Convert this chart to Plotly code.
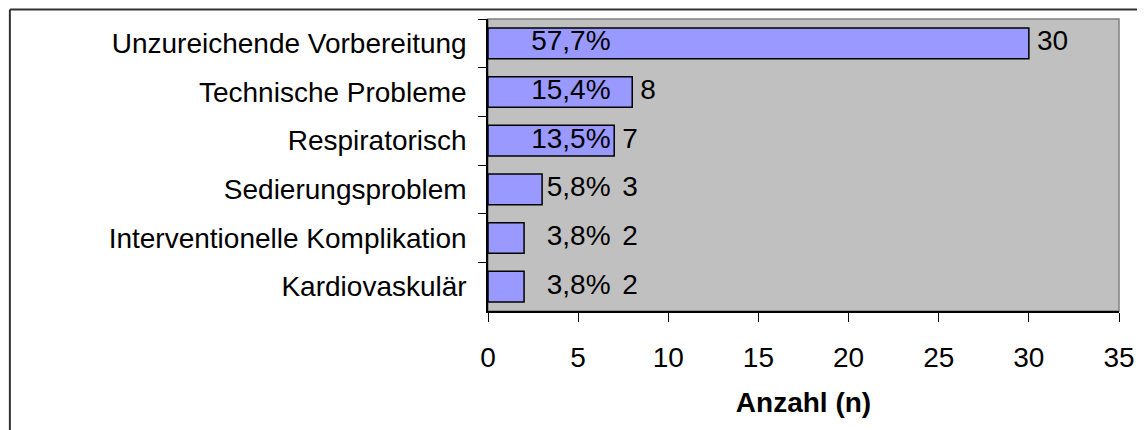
import plotly.graph_objects as go

categories = [
    "Unzureichende Vorbereitung",
    "Technische Probleme",
    "Respiratorisch",
    "Sedierungsproblem",
    "Interventionelle Komplikation",
    "Kardiovaskulär",
]
counts = [30, 8, 7, 3, 2, 2]
percent_labels = ["57,7%", "15,4%", "13,5%", "5,8%", "3,8%", "3,8%"]
x_ticks = [0, 5, 10, 15, 20, 25, 30, 35]

FONT = "Arial, Liberation Sans, sans-serif"
FS = 28
PCT_RIGHT = 6.8        # right edge of the percentage labels (axis units)
LABEL_GAP = 0.45       # gap between bar end and count label
MIN_COUNT_X = 7.45     # count labels never start left of this

# page body has an 8px margin; figure coordinates are screen - 8
W, H = 1145, 430
ML, MR, MT, MB = 479.5, 34, 11, 127.3

fig = go.Figure()
fig.add_trace(go.Bar(
    y=categories, x=counts, orientation="h",
    marker=dict(color="#9999FF", line=dict(color="#000000", width=1.5)),
    hoverinfo="skip", showlegend=False,
))
fig.add_trace(go.Scatter(
    y=categories, x=[PCT_RIGHT] * len(categories), mode="text",
    text=percent_labels, textposition="middle left",
    textfont=dict(family=FONT, size=FS, color="#000000"),
    hoverinfo="skip", showlegend=False, cliponaxis=False,
))
fig.add_trace(go.Scatter(
    y=categories, x=[max(c + LABEL_GAP, MIN_COUNT_X) for c in counts], mode="text",
    text=[str(c) for c in counts], textposition="middle right",
    textfont=dict(family=FONT, size=FS, color="#000000"),
    hoverinfo="skip", showlegend=False, cliponaxis=False,
))

# plot-area border (top/right grey)
fig.add_shape(type="rect", xref="paper", yref="paper", x0=0, x1=1, y0=0, y1=1,
              line=dict(color="#808080", width=1.5), fillcolor="rgba(0,0,0,0)", layer="below")
# outer chart frame (left and top edges visible)
pw = W - ML - MR
ph = H - MT - MB
fx = (1 - ML) / pw
fy = 1 + (MT - 1.5) / ph
fig.add_shape(type="line", xref="paper", yref="paper", x0=fx, x1=(W + 5 - ML) / pw, y0=fy, y1=fy,
              line=dict(color="#333333", width=2))
fig.add_shape(type="line", xref="paper", yref="paper", x0=fx, x1=fx, y0=fy, y1=-(MB + 5) / ph,
              line=dict(color="#333333", width=2))

fig.update_layout(
    width=W, height=H,
    margin=dict(l=ML, r=MR, t=MT, b=MB, pad=0),
    paper_bgcolor="#FFFFFF", plot_bgcolor="#C0C0C0",
    bargap=0.37,
    font=dict(family=FONT, size=FS, color="#000000"),
    showlegend=False,
)
fig.update_xaxes(
    range=[0, 35], tickvals=x_ticks, ticktext=[str(v) for v in x_ticks],
    showgrid=False, zeroline=False,
    showline=True, linecolor="#000000", linewidth=1.5,
    ticks="outside", ticklen=9, tickcolor="#000000", tickwidth=1,
    ticklabelstandoff=12,
    tickfont=dict(family=FONT, size=FS),
    title=dict(text="<b>Anzahl (n)</b>", font=dict(family=FONT, size=FS), standoff=20),
)
fig.update_yaxes(
    categoryorder="array", categoryarray=categories, autorange="reversed",
    showgrid=False, zeroline=False,
    showline=True, linecolor="#000000", linewidth=1.5,
    ticks="outside", ticklen=8, tickcolor="#000000", tickwidth=1,
    tickson="boundaries",
    ticklabelstandoff=14,
    tickfont=dict(family=FONT, size=FS),
)

fig.write_html("out.html")
